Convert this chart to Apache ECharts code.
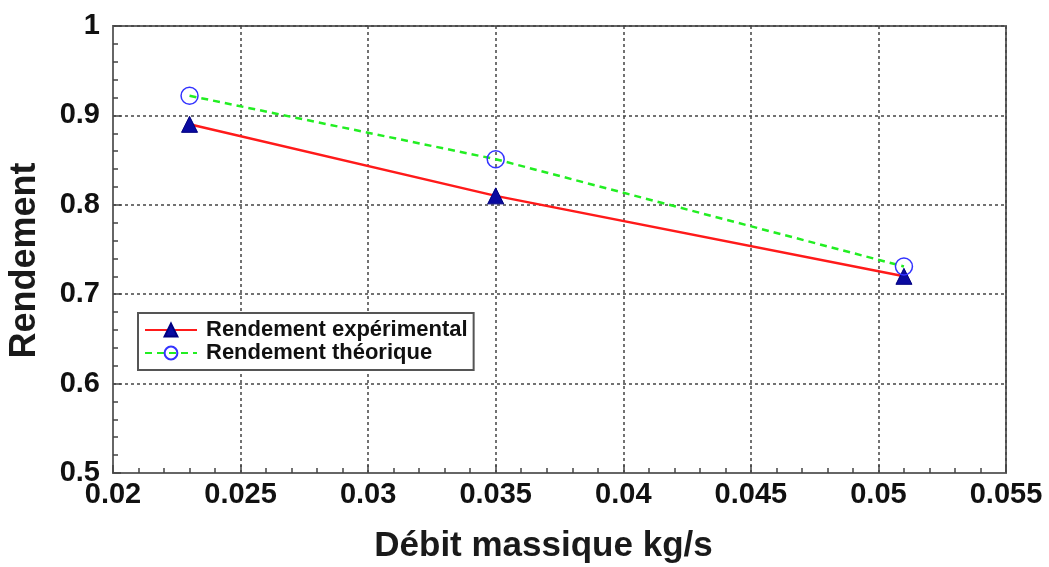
<!DOCTYPE html>
<html><head><meta charset="utf-8">
<script src="https://cdn.jsdelivr.net/npm/echarts@6/dist/echarts.min.js"></script>
<style>html,body{margin:0;padding:0;background:#fff}#c{width:1049px;height:567px}</style>
</head><body><div id="c"></div>
<script>
const debit = [0.023, 0.035, 0.051];
const rendExp = [0.89, 0.81, 0.72];
const rendTheo = [0.922, 0.851, 0.731];
const seriesNames = ['Rendement expérimental', 'Rendement théorique'];
const xTitle = 'Débit massique kg/s';
const yTitle = 'Rendement';

const chart = echarts.init(document.getElementById('c'));
const font = 'Liberation Sans, Arial, sans-serif';
chart.setOption({
  animation: false,
  backgroundColor: '#fff',
  grid: {left: 113, right: 43, top: 26, bottom: 94, containLabel: false, outerBoundsMode: 'none', show: true, borderColor: '#666', borderWidth: 2},
  xAxis: {
    type: 'value', min: 0.02, max: 0.055, interval: 0.005,
    name: xTitle, nameLocation: 'middle', nameGap: 56,
    nameTextStyle: {fontFamily: font, fontWeight: 'bold', fontSize: 35, color: '#1a1a1a', padding: [0, 32, 0, 0]},
    axisLine: {lineStyle: {color: '#666', width: 2}},
    axisTick: {inside: true, length: 8, lineStyle: {color: '#444', width: 1.5}},
    minorTick: {show: true, splitNumber: 5, length: 5, lineStyle: {color: '#444', width: 1.5}},
    axisLabel: {fontFamily: font, fontWeight: 'bold', fontSize: 29, color: '#111', margin: 7},
    splitLine: {lineStyle: {color: '#444', type: [3, 3], width: 1.5}}
  },
  yAxis: {
    type: 'value', min: 0.5, max: 1, interval: 0.1,
    name: yTitle, nameLocation: 'middle', nameGap: 70,
    nameTextStyle: {fontFamily: font, fontWeight: 'bold', fontSize: 36, color: '#1a1a1a', padding: [0, 22, 0, 0]},
    axisLine: {show: true, lineStyle: {color: '#666', width: 2}},
    axisTick: {show: true, inside: true, length: 8, lineStyle: {color: '#444', width: 1.5}},
    minorTick: {show: true, splitNumber: 5, length: 5, lineStyle: {color: '#444', width: 1.5}},
    axisLabel: {fontFamily: font, fontWeight: 'bold', fontSize: 29, color: '#111', margin: 13},
    splitLine: {lineStyle: {color: '#444', type: [3, 3], width: 1.5}}
  },
  legend: {
    orient: 'vertical', left: 138, top: 313,
    backgroundColor: '#fff', borderColor: '#555', borderWidth: 2, borderRadius: 0,
    padding: [6, 6, 6, 6], itemGap: 1, itemWidth: 52, itemHeight: 16,
    textStyle: {fontFamily: font, fontWeight: 'bold', fontSize: 22, color: '#111', lineHeight: 22, padding: [0, 0, 0, 4]},
    data: seriesNames
  },
  series: [
    {
      name: seriesNames[0], type: 'line',
      data: debit.map((x, i) => [x, rendExp[i]]),
      lineStyle: {color: '#ff1a1a', width: 2.5},
      symbol: 'triangle', symbolSize: 16,
      itemStyle: {color: '#0a0aa0', borderColor: '#000080', borderWidth: 1}
    },
    {
      name: seriesNames[1], type: 'line',
      data: debit.map((x, i) => [x, rendTheo[i]]),
      lineStyle: {color: '#22ee22', width: 2.5, type: [7, 5]},
      symbol: 'circle', symbolSize: 17,
      itemStyle: {color: 'rgba(255,255,255,0)', borderColor: '#3333ff', borderWidth: 1.5},
      z: 3
    }
  ]
});
</script></body></html>
